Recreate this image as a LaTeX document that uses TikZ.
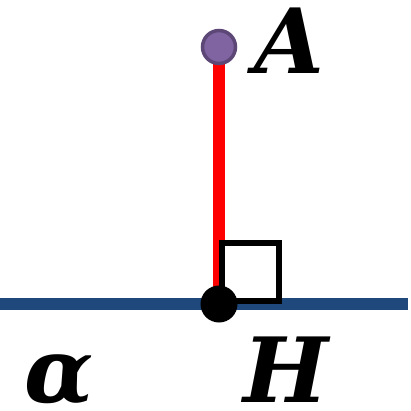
\documentclass[tikz,border=0pt]{standalone}
\usepackage{fontspec}
\usepackage{xcolor}
\usepackage{tikz}
\usetikzlibrary{positioning}
\newfontfamily\lblfont{DejaVu Serif}
\definecolor{planeblue}{HTML}{1F497D}
\definecolor{ptpurple}{HTML}{8064A2}
\definecolor{ptedge}{HTML}{5C4776}

\begin{document}
\begin{tikzpicture}[x=1pt, y=-1pt,
  plane/.style={draw=planeblue, line width=12.5pt},
  perp/.style={draw=red, line width=12pt},
  rightang/.style={draw=black, line width=5.5pt},
  foot/.style={circle, fill=black, minimum size=37pt, inner sep=0pt},
  apex/.style={circle, draw=ptedge, fill=ptpurple, line width=3.5pt, minimum size=33pt, inner sep=0pt},
  lbl/.style={font=\lblfont\bfseries\itshape\fontsize{90}{90}\selectfont, inner sep=0pt, text depth=0pt, anchor=base west}]
\useasboundingbox (0,0) rectangle (411,411);
\coordinate (pL) at (0,304);
\coordinate (pR) at (408,304);
\coordinate (pA) at (219,47);
\coordinate (pH) at (219,304);
\draw[plane] (pL) -- (pR);
\draw[perp] (pA) -- (pH);
% right angle mark
\draw[rightang] (222,301) rectangle (279,243);
\node[foot] (H) at (pH) {};
\node[apex] (A) at (pA) {};
\node[lbl] (labA) at (254,74) {A};
\node[lbl] (labH) at (243,402) {H};
\node[lbl] (labAlpha) at (24,402) {α};
\end{tikzpicture}
\end{document}
